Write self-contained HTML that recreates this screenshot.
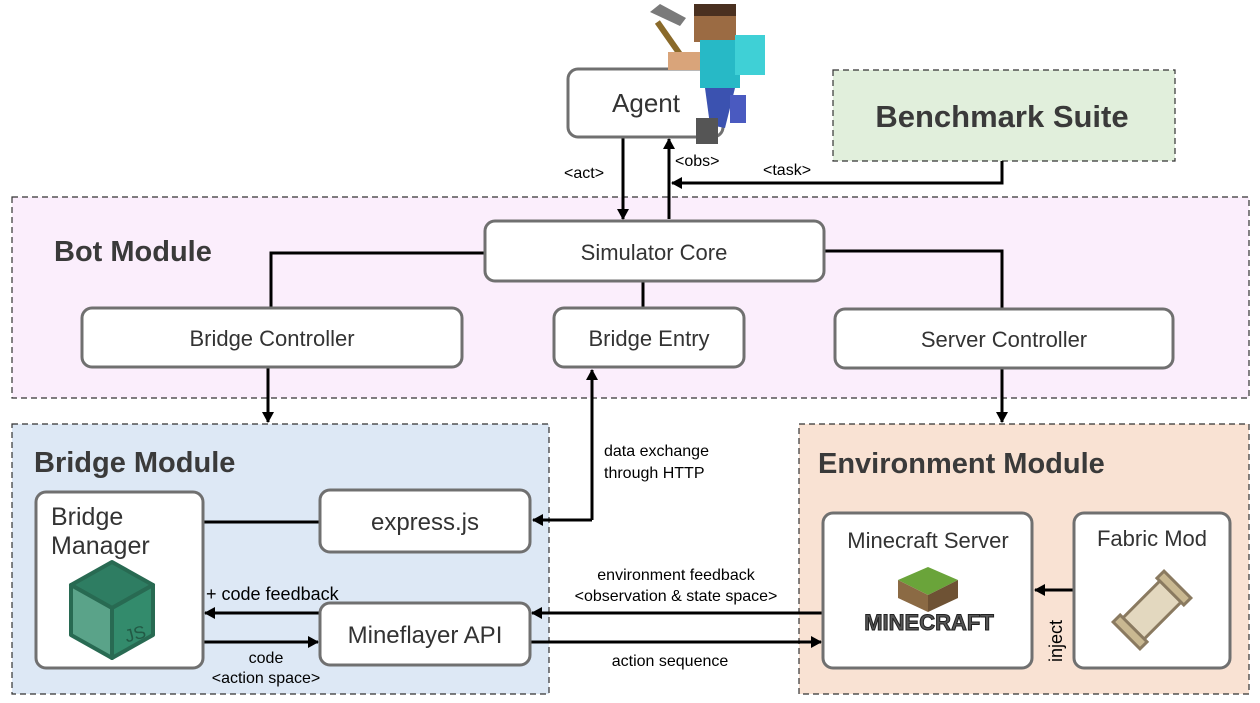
<!DOCTYPE html>
<html><head><meta charset="utf-8"><style>
html,body{margin:0;padding:0;background:#fff;}
svg{display:block;font-family:"Liberation Sans",sans-serif;}
</style></head><body>
<svg width="1260" height="703" viewBox="0 0 1260 703" xmlns="http://www.w3.org/2000/svg">
<defs>
<marker id="ah" markerWidth="12" markerHeight="12" refX="10" refY="6" orient="auto" markerUnits="userSpaceOnUse">
<path d="M0,0 L11,6 L0,12 z" fill="#000"/></marker>
</defs>
<rect x="12" y="197" width="1237" height="201" fill="#fbeefc" stroke="#333" stroke-dasharray="6,4" stroke-width="1.2"/>
<rect x="12" y="424" width="537" height="270" fill="#dde8f5" stroke="#333" stroke-dasharray="6,4" stroke-width="1.2"/>
<rect x="799" y="424" width="450" height="270" fill="#f9e2d3" stroke="#333" stroke-dasharray="6,4" stroke-width="1.2"/>
<rect x="833" y="70" width="342" height="91" fill="#e1efdc" stroke="#333" stroke-dasharray="6,4" stroke-width="1.2"/>
<text x="1002" y="127" font-size="31" font-weight="bold" fill="#3a3a3a" text-anchor="middle">Benchmark Suite</text>
<text x="54" y="261" font-size="29" font-weight="bold" fill="#3a3a3a">Bot Module</text>
<text x="34" y="472" font-size="29" font-weight="bold" fill="#3a3a3a">Bridge Module</text>
<text x="818" y="473" font-size="29" font-weight="bold" fill="#3a3a3a">Environment Module</text>

<g stroke="#000" stroke-width="3" fill="none">
<line x1="623" y1="137" x2="623" y2="219" marker-end="url(#ah)"/>
<line x1="669" y1="219" x2="669" y2="139" marker-end="url(#ah)"/>
<polyline points="1002,161 1002,183 672,183" marker-end="url(#ah)"/>
<polyline points="485,253 271,253 271,308"/>
<polyline points="824,251 1002,251 1002,309"/>
<line x1="643" y1="281" x2="643" y2="308"/>
<line x1="268" y1="367" x2="268" y2="422" marker-end="url(#ah)"/>
<line x1="1002" y1="368" x2="1002" y2="422" marker-end="url(#ah)"/>
<polyline points="592,520 592,370" marker-end="url(#ah)"/>
<line x1="592" y1="520" x2="533" y2="520" marker-end="url(#ah)"/>
<line x1="203" y1="522" x2="320" y2="522"/>
<line x1="320" y1="613" x2="205" y2="613" marker-end="url(#ah)"/>
<line x1="203" y1="642" x2="318" y2="642" marker-end="url(#ah)"/>
<line x1="823" y1="613" x2="532" y2="613" marker-end="url(#ah)"/>
<line x1="530" y1="642" x2="821" y2="642" marker-end="url(#ah)"/>
<line x1="1074" y1="590" x2="1035" y2="590" marker-end="url(#ah)"/>
</g>

<g fill="#fff" stroke="#707070" stroke-width="3">
<rect x="568" y="69" width="155" height="68" rx="10"/>
<rect x="485" y="221" width="339" height="60" rx="10"/>
<rect x="82" y="308" width="380" height="59" rx="10"/>
<rect x="554" y="308" width="190" height="59" rx="10"/>
<rect x="835" y="309" width="338" height="59" rx="10"/>
<rect x="36" y="492" width="167" height="176" rx="10"/>
<rect x="320" y="490" width="210" height="62" rx="10"/>
<rect x="320" y="603" width="210" height="62" rx="10"/>
<rect x="823" y="513" width="209" height="155" rx="10"/>
<rect x="1074" y="513" width="156" height="155" rx="10"/>
</g>

<g fill="#333" text-anchor="middle">
<text x="646" y="112" font-size="26">Agent</text>
<text x="654" y="260" font-size="22">Simulator Core</text>
<text x="272" y="346" font-size="22">Bridge Controller</text>
<text x="649" y="346" font-size="22">Bridge Entry</text>
<text x="1004" y="347" font-size="22">Server Controller</text>
<text x="425" y="530" font-size="24">express.js</text>
<text x="425" y="643" font-size="24">Mineflayer API</text>
<text x="928" y="548" font-size="22">Minecraft Server</text>
<text x="1152" y="546" font-size="22">Fabric Mod</text>
</g>
<g fill="#333" font-size="25">
<text x="51" y="525">Bridge</text>
<text x="51" y="554">Manager</text>
</g>

<g fill="#000" font-size="16">
<text x="564" y="178">&lt;act&gt;</text>
<text x="675" y="166">&lt;obs&gt;</text>
<text x="763" y="175">&lt;task&gt;</text>
<text x="604" y="456">data exchange</text>
<text x="604" y="478">through HTTP</text>
<text x="206" y="600" font-size="18">+ code feedback</text>
<text x="266" y="663" text-anchor="middle">code</text>
<text x="266" y="683" text-anchor="middle">&lt;action space&gt;</text>
<text x="676" y="580" text-anchor="middle">environment feedback</text>
<text x="676" y="601" text-anchor="middle">&lt;observation &amp; state space&gt;</text>
<text x="670" y="666" text-anchor="middle">action sequence</text>
<text transform="translate(1062,662) rotate(-90)" font-size="18">inject</text>
</g>

<g stroke="#286a52" stroke-width="4" stroke-linejoin="round">
<polygon points="112,562 153,585 112,608 71,585" fill="#2e7d62"/>
<polygon points="71,585 112,608 112,658 71,635" fill="#5aa389"/>
<polygon points="153,585 112,608 112,658 153,635" fill="#338b6c"/>
</g>
<text x="135" y="640" font-size="18" fill="#225a45" text-anchor="middle" transform="rotate(-15 135 633)">JS</text>

<polygon points="928,567 958,580 928,595 898,580" fill="#6aa43a"/>
<polygon points="898,580 928,595 928,612 898,598" fill="#8b6a44"/>
<polygon points="958,580 928,595 928,612 958,598" fill="#6e5234"/>
<text x="929" y="630" font-size="22" font-weight="bold" fill="#555" stroke="#222" stroke-width="1" text-anchor="middle">MINECRAFT</text>

<g transform="rotate(-45 1152 610)">
<rect x="1124" y="595" width="56" height="30" fill="#e3d8bf" stroke="#8a7a60" stroke-width="3"/>
<rect x="1116" y="591" width="10" height="38" fill="#c9b891" stroke="#8a7a60" stroke-width="3"/>
<rect x="1178" y="591" width="10" height="38" fill="#c9b891" stroke="#8a7a60" stroke-width="3"/>
</g>

<g>
<polygon points="650,12 660,4 686,18 680,26" fill="#7a7a7a"/>
<rect x="667" y="18" width="6" height="50" fill="#8a6a2a" transform="rotate(-35 670 40)"/>
<rect x="694" y="4" width="42" height="38" fill="#9b6b43"/>
<rect x="694" y="4" width="42" height="12" fill="#4a3020"/>
<rect x="700" y="40" width="40" height="48" fill="#27b9c6"/>
<rect x="735" y="35" width="30" height="40" fill="#3fd0d6"/>
<rect x="668" y="52" width="32" height="18" fill="#d9a47a"/>
<polygon points="705,88 735,88 725,128 710,125" fill="#3b52b0"/>
<rect x="696" y="118" width="22" height="26" fill="#555"/>
<rect x="730" y="95" width="16" height="28" fill="#4a5ac0"/>
</g>
</svg>
</body></html>
